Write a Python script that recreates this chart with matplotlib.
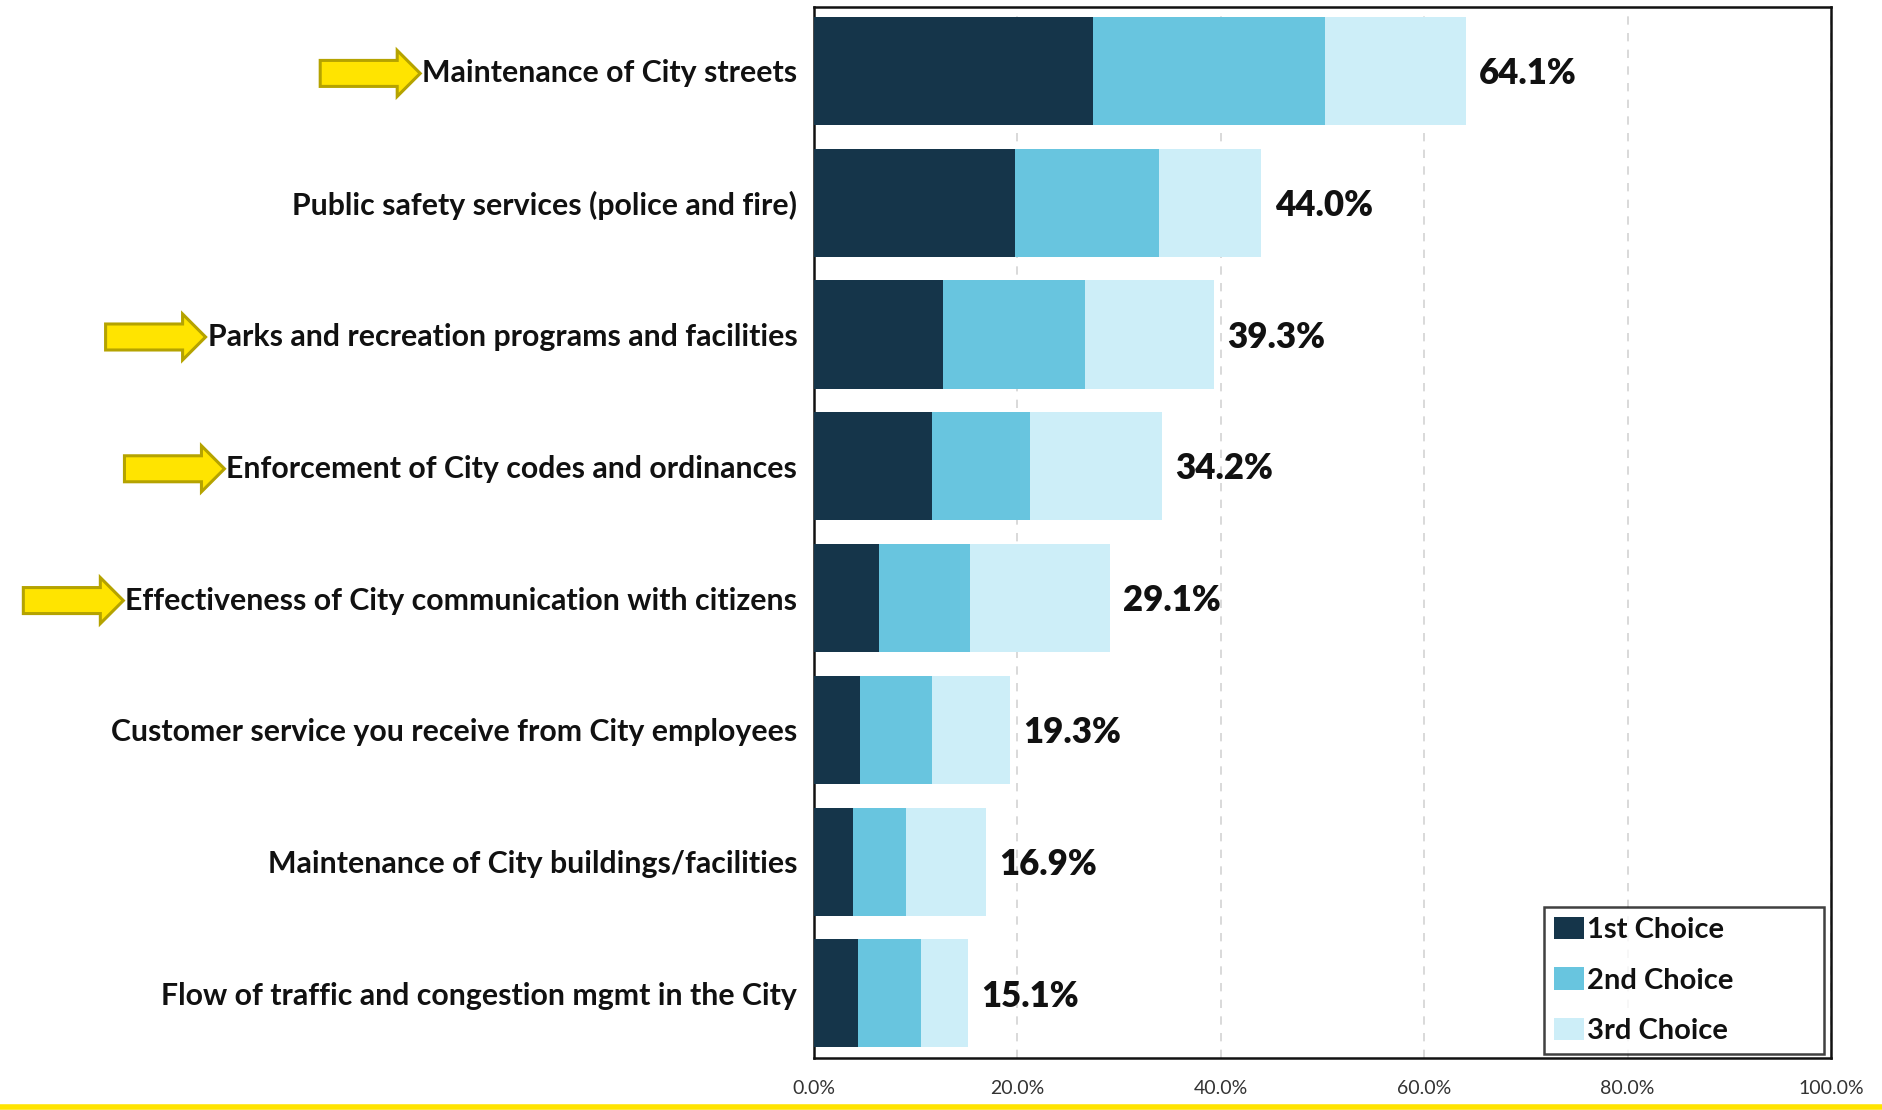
import matplotlib
matplotlib.use("Agg")
import matplotlib.pyplot as plt
from matplotlib.patches import Polygon
from matplotlib.lines import Line2D
import numpy as np

categories = [
    "Maintenance of City streets",
    "Public safety services (police and fire)",
    "Parks and recreation programs and facilities",
    "Enforcement of City codes and ordinances",
    "Effectiveness of City communication with citizens",
    "Customer service you receive from City employees",
    "Maintenance of City buildings/facilities",
    "Flow of traffic and congestion mgmt in the City",
]
first_choice = [27.4, 19.8, 12.7, 11.6, 6.4, 4.5, 3.8, 4.3]
second_choice = [22.8, 14.1, 13.9, 9.6, 8.9, 7.1, 5.2, 6.2]
third_choice = [13.9, 10.1, 12.7, 13.0, 13.8, 7.7, 7.9, 4.6]
totals = [64.1, 44.0, 39.3, 34.2, 29.1, 19.3, 16.9, 15.1]
series_names = ["1st Choice", "2nd Choice", "3rd Choice"]
highlighted = [0, 2, 3, 4]
xticks = [0, 20, 40, 60, 80, 100]

colors = ["#15354A", "#68C5DF", "#CDEEF8"]

plt.rcParams['font.family'] = ['Lato', 'DejaVu Sans']

W, H = 1883, 1110
fig = plt.figure(figsize=(W / 100, H / 100), dpi=100)
ax = fig.add_axes([814 / W, 1 - 1058 / H, (1831 - 814) / W, (1058 - 7) / H])

y = np.arange(len(categories))
left = np.zeros(len(categories))
for vals, name, c in zip([first_choice, second_choice, third_choice], series_names, colors):
    ax.barh(y, vals, left=left, height=0.82, color=c, label=name, edgecolor='none', zorder=3)
    left = left + np.array(vals)

for yi, tot, end in zip(y, totals, left):
    ax.text(end + 1.3, yi + 0.02, f"{tot:.1f}%", va='center', ha='left', fontsize=25,
            fontweight='heavy', color='#111111', zorder=4)

ax.set_xlim(0, 100)
ax.set_ylim(7.49, -0.485)
ax.set_yticks(y)
ax.set_yticklabels(categories, fontsize=21.8, fontweight='bold', color='#111111')
ax.set_xticks(xticks)
ax.set_xticklabels([f"{t:.1f}%" for t in xticks], fontsize=14, color='#333333')
ax.tick_params(axis='both', length=0)
ax.tick_params(axis='y', pad=12)
ax.tick_params(axis='x', pad=16)
ax.xaxis.grid(True, linestyle=(0, (5, 5)), color='#D3D3D3', linewidth=1.2, zorder=0)
ax.set_axisbelow(True)
for s in ax.spines.values():
    s.set_color('#111111')
    s.set_linewidth(1.8)

leg = ax.legend(loc='lower left', bbox_to_anchor=(0.718, 0.0034, 0.275, 0.143), mode='expand',
                frameon=True, fancybox=False,
                fontsize=21, handlelength=1.0, handleheight=0.8, handletextpad=0.12,
                labelspacing=0.83, borderpad=0.35, borderaxespad=0)
leg.get_frame().set_edgecolor('#111111')
leg.get_frame().set_linewidth(1.8)
for t in leg.get_texts():
    t.set_color('#111111')
    t.set_fontweight('bold')

# yellow arrows pointing at highlighted labels
fig.canvas.draw()
renderer = fig.canvas.get_renderer()
labels = ax.get_yticklabels()
for i in highlighted:
    bb = labels[i].get_window_extent(renderer)
    tip_x = bb.x0 - 2
    cy = (bb.y0 + bb.y1) / 2
    L, hl, hh, sh = 100, 23, 23, 13
    pts = [
        (tip_x - L, cy - sh), (tip_x - hl, cy - sh), (tip_x - hl, cy - hh),
        (tip_x, cy), (tip_x - hl, cy + hh), (tip_x - hl, cy + sh), (tip_x - L, cy + sh),
    ]
    pts = [(px / W, py / H) for px, py in pts]
    fig.patches.append(Polygon(pts, closed=True, transform=fig.transFigure,
                               facecolor='#FFE400', edgecolor='#B5A300', linewidth=2.2))

fig.lines.append(Line2D([0, 1], [3 / H, 3 / H], transform=fig.transFigure,
                        color='#FFE400', linewidth=4))

fig.savefig("out.png", dpi=100)
